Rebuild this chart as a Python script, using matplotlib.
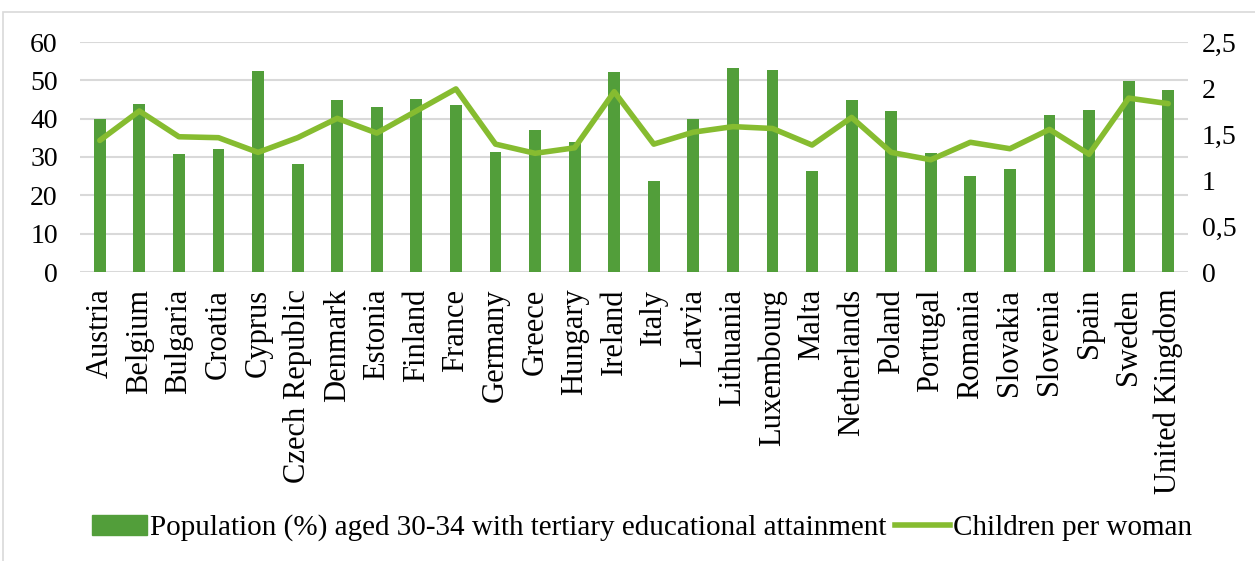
import matplotlib
matplotlib.use('Agg')
import matplotlib.pyplot as plt
import numpy as np
from matplotlib.patches import Rectangle
from matplotlib.lines import Line2D

countries = ['Austria', 'Belgium', 'Bulgaria', 'Croatia', 'Cyprus', 'Czech Republic',
             'Denmark', 'Estonia', 'Finland', 'France', 'Germany', 'Greece', 'Hungary',
             'Ireland', 'Italy', 'Latvia', 'Lithuania', 'Luxembourg', 'Malta',
             'Netherlands', 'Poland', 'Portugal', 'Romania', 'Slovakia', 'Slovenia',
             'Spain', 'Sweden', 'United Kingdom']
tertiary = [40.0, 43.7, 30.8, 32.2, 52.4, 28.2, 44.9, 43.1, 45.2, 43.6, 31.3, 37.1, 34.0,
            52.1, 23.8, 39.8, 53.1, 52.6, 26.4, 44.8, 42.0, 31.1, 25.0, 26.9, 40.9,
            42.2, 49.8, 47.6]
children = [1.43, 1.75, 1.47, 1.46, 1.30, 1.46, 1.67, 1.51, 1.75, 1.99, 1.39, 1.29, 1.35,
            1.96, 1.39, 1.52, 1.58, 1.56, 1.38, 1.68, 1.30, 1.22, 1.41, 1.34, 1.55,
            1.28, 1.89, 1.83]
left_ticks = [0, 10, 20, 30, 40, 50, 60]
right_ticks = [0, 0.5, 1, 1.5, 2, 2.5]
right_labels = ['0', '0,5', '1', '1,5', '2', '2,5']

C_BAR = '#529E3A'
C_LINE = '#86BC30'
C_GRID = '#D9D9D9'

plt.rcParams['font.family'] = ['Liberation Serif', 'DejaVu Serif']

fig = plt.figure(figsize=(12.55, 5.61), dpi=100)
fig.patches.append(Rectangle((3 / 1255, -0.01), 1.02, 1 - 12 / 561 + 0.01,
                             transform=fig.transFigure, fill=False,
                             edgecolor=C_GRID, linewidth=1.2))

ax = fig.add_axes([80 / 1255, 1 - 272 / 561, (1188 - 80) / 1255, (272 - 42) / 561])
x = np.arange(len(countries))
ax.bar(x, tertiary, width=0.3, color=C_BAR, zorder=2)
ax.set_ylim(0, 60)
ax.set_xlim(-0.5, len(countries) - 0.5)
ax.set_yticks(left_ticks)
ax.yaxis.grid(True, color=C_GRID, linewidth=1.5, zorder=0)
ax.set_axisbelow(True)
for s in ax.spines.values():
    s.set_visible(False)
ax.tick_params(length=0)
ax.tick_params(axis='y', labelsize=20, pad=16)
ax.set_xticks(x)
ax.set_xticklabels(countries, rotation=90, fontsize=22)
ax.tick_params(axis='x', pad=12)

ax2 = ax.twinx()
ax2.plot(x, children, color=C_LINE, linewidth=4, solid_joinstyle='round',
         solid_capstyle='round', zorder=3)
ax2.set_ylim(0, 2.5)
ax2.set_yticks(right_ticks)
ax2.set_yticklabels(right_labels)
for s in ax2.spines.values():
    s.set_visible(False)
ax2.tick_params(length=0, labelsize=20, pad=10)

handles = [Rectangle((0, 0), 1, 1, color=C_BAR),
           Line2D([0], [0], color=C_LINE, linewidth=4)]
labels = ['Population (%) aged 30-34 with tertiary educational attainment',
          'Children per woman']
fig.legend(handles, labels, loc='center', bbox_to_anchor=(642 / 1255, 1 - 528 / 561),
           ncol=2, frameon=False, fontsize=21, handlelength=1.9, handletextpad=0.1,
           columnspacing=0.3)

fig.savefig('out.png', dpi=100)
